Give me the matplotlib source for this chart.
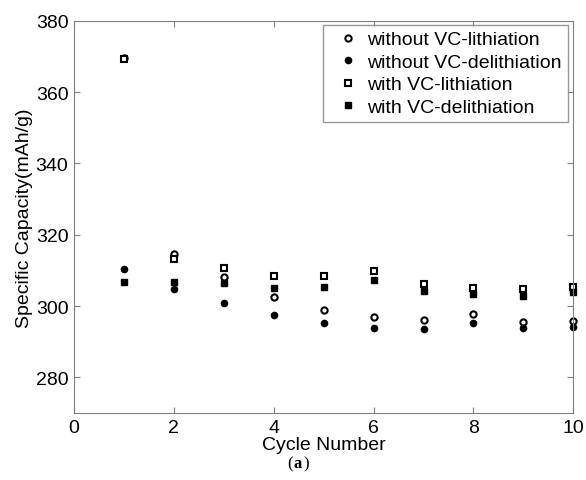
import matplotlib
matplotlib.use("Agg")
import matplotlib.pyplot as plt

plt.rcParams['font.family'] = ['Liberation Sans', 'DejaVu Sans']

# cycle data (mAh/g)
cycles = [1, 2, 3, 4, 5, 6, 7, 8, 9, 10]
novc_lith = [369.5, 314.7, 308.1, 302.5, 299.0, 296.8, 296.2, 297.7, 295.5, 295.9]
novc_delith = [310.3, 304.7, 300.9, 297.6, 295.1, 293.8, 293.5, 295.2, 293.7, 294.0]
vc_lith = [369.3, 313.1, 310.6, 308.4, 308.4, 309.7, 306.3, 305.1, 304.8, 305.4]
vc_delith = [306.7, 306.6, 306.4, 305.0, 305.4, 307.3, 304.2, 303.4, 302.9, 303.8]

fig = plt.figure(figsize=(5.86, 4.81), dpi=100)
ax = fig.add_axes([0.1263, 0.1393, 0.8520, 0.8156])

ms = 4.5
ax.plot(cycles, novc_lith, linestyle='', marker='o', markersize=ms,
        markerfacecolor='white', markeredgecolor='black', markeredgewidth=1.5,
        clip_on=False, label='without VC-lithiation')
ax.plot(cycles, novc_delith, linestyle='', marker='o', markersize=ms,
        color='black', clip_on=False, label='without VC-delithiation')
ax.plot(cycles, vc_lith, linestyle='', marker='s', markersize=ms,
        markerfacecolor='white', markeredgecolor='black', markeredgewidth=1.5,
        clip_on=False, label='with VC-lithiation')
ax.plot(cycles, vc_delith, linestyle='', marker='s', markersize=ms - 0.5,
        color='black', clip_on=False, label='with VC-delithiation')

ax.set_xlim(0, 10)
ax.set_ylim(270, 380)
ax.set_xticks([0, 2, 4, 6, 8, 10])
ax.set_yticks([280, 300, 320, 340, 360, 380])

for s in ax.spines.values():
    s.set_color('#7f7f7f')
ax.tick_params(direction='in', top=True, right=True, length=4,
               color='#7f7f7f', labelsize=14, pad=4)

ax.set_xlabel('Cycle Number', fontsize=14, labelpad=0)
ax.set_ylabel('Specific Capacity(mAh/g)', fontsize=14, labelpad=2)

leg = ax.legend(loc='upper right', bbox_to_anchor=(0.989, 0.989), fontsize=14,
                frameon=True, fancybox=False, handlelength=2.0,
                handletextpad=0.0, borderpad=0.3, labelspacing=0.25,
                borderaxespad=0.0)
leg.get_frame().set_edgecolor('#7f7f7f')
leg.get_frame().set_linewidth(1.0)

fig.text(0.5, 0.027, '(', fontsize=12, family='Liberation Serif', ha='right')
fig.text(0.5, 0.027, 'a', fontsize=12, family='Liberation Serif',
         weight='bold', ha='left')
fig.text(0.5 + 0.017, 0.027, ')', fontsize=12, family='Liberation Serif',
         ha='left')

fig.savefig('out.png', dpi=100)
